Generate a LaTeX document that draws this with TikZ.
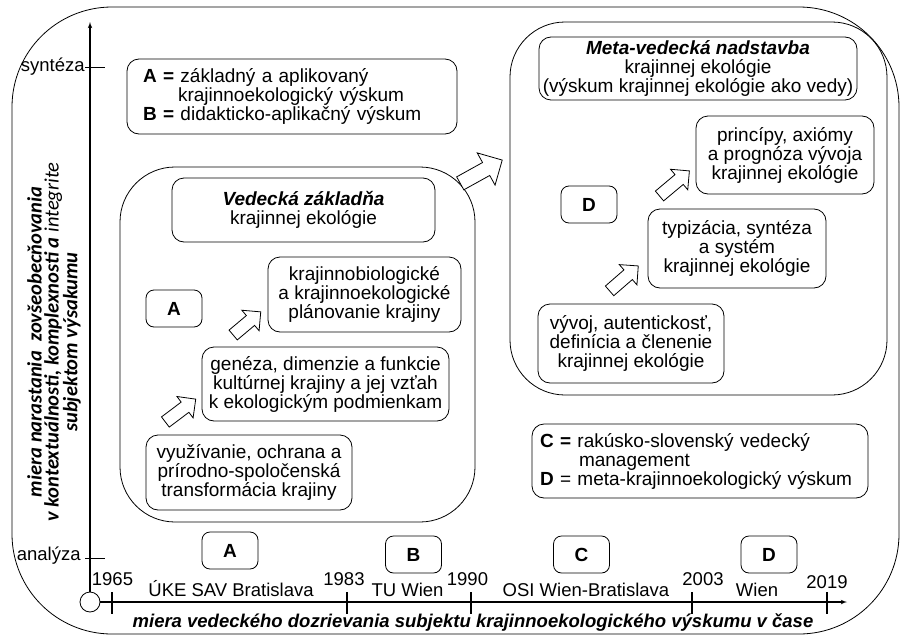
\documentclass[tikz,border=0pt]{standalone}
\usepackage{fontspec}
\setmainfont{Liberation Sans}
\newfontfamily\calfont{Carlito}
\usetikzlibrary{arrows,positioning,shapes.arrows}
\tikzstyle{tbox}=[draw, rounded corners=12pt, align=center, inner sep=0pt]
\tikzstyle{lbox}=[draw, rounded corners=12pt, align=left, inner sep=0pt]
\tikzstyle{lettr}=[draw, rounded corners=8pt, minimum width=56pt, minimum height=37pt, font=\bfseries\fontsize{19}{19}\selectfont]
\tikzstyle{cont}=[draw, rounded corners=55pt, inner sep=0pt]
\tikzstyle{harrow}=[draw, fill=white, single arrow, inner xsep=0pt, inner ysep=6pt, single arrow head extend=7pt]
\tikzstyle{tl}=[anchor=base, inner sep=0pt, font=\fontsize{18.5}{18.5}\selectfont]

\begin{document}
\begin{tikzpicture}[x=1pt,y=-1pt,>=latex',line width=0.8pt,font=\fontsize{19}{19}\selectfont]
    \useasboundingbox (0,0) rectangle (902,637);
    % outer frame
    \node[draw, rounded corners=100pt, minimum width=887pt, minimum height=627pt] (frame) at (455.5,320.5) {};
    % axes
    \node[draw, circle, fill=white, minimum size=20pt, inner sep=0pt] (orig) at (90,602) {};
    \coordinate (ytop) at (90,22);
    \coordinate (xend) at (847,602);
    \draw[->, line width=1.1pt] (orig) -- (ytop);
    \draw[->, line width=1.1pt] (orig) -- (xend);
    \foreach \x in {112,347,471,692,827}
        \draw[line width=1.1pt] (\x,592) -- (\x,614);
    \node[anchor=east, inner sep=0pt, font=\fontsize{18.5}{18.5}\selectfont] (syn) at (85,67) {syntéza};
    \node[anchor=east, inner sep=0pt, font=\fontsize{18.5}{18.5}\selectfont] (ana) at (81,556) {analýza};
    \draw (syn.east) -- (105,67);
    \draw (85,558) -- (105,558);
    \node[rotate=90, align=center, font=\calfont\bfseries\itshape\fontsize{20.5}{17}\selectfont] (ylab) at (54,342)
        {miera narastania\ \ zovšeobecňovania\\v kontextuálnosti, komplexnosti a {\mdseries integrite}\\subjektom výsakumu};
    \node[anchor=base, inner sep=0pt, font=\bfseries\itshape\fontsize{18.5}{18.5}\selectfont] (xlab) at (473,627)
        {miera vedeckého dozrievania subjektu krajinnoekologického výskumu v čase};
    % timeline
    \foreach \x/\y/\t in {112.5/585/1965, 344/585/1983, 467.5/585/1990, 703/585/2003, 827/588/2019}
        \node[tl] (y\t) at (\x,\y) {\t};
    \node[tl] (uke) at (231,596) {ÚKE SAV Bratislava};
    \node[tl] (tuw) at (407.5,596) {TU Wien};
    \node[tl] (osi) at (586,596) {OSI Wien-Bratislava};
    \node[tl] (wien) at (757,596) {Wien};
    \node[lettr] (tA) at (230,550.5) {A};
    \node[lettr] (tB) at (413.5,554.5) {B};
    \node[lettr] (tC) at (581.5,554.5) {C};
    \node[lettr] (tD) at (769,554.5) {D};
    % legends
    \node[lbox, minimum width=330pt, minimum height=75pt, text width=298pt] (legAB) at (292,96.5)
        {\textbf{A =} základný a aplikovaný\\\hspace*{35pt}krajinnoekologický výskum\\\textbf{B =} didakticko-aplikačný výskum};
    \node[lbox, minimum width=336pt, minimum height=74pt, text width=320pt] (legCD) at (700,461)
        {\textbf{C =} rakúsko-slovenský vedecký\\\hspace*{39pt}management\\\textbf{D} = meta-krajinnoekologický výskum};
    % Vedecka zakladna
    \node[cont, minimum width=355pt, minimum height=355pt] (ved) at (297.5,344.5) {};
    \node[tbox, minimum width=263pt, minimum height=64pt] (vedT) at (303.5,210) {\textbf{\textit{Vedecká základňa}}\\krajinnej ekológie};
    \node[lettr] (vA) at (174,308.5) {A};
    \node[tbox, minimum width=193pt, minimum height=75pt] (plan) at (364.5,294.5) {krajinnobiologické\\a krajinnoekologické\\plánovanie krajiny};
    \node[tbox, minimum width=247pt, minimum height=74pt] (gen) at (325.5,384) {genéza, dimenzie a funkcie\\kultúrnej krajiny a jej vzťah\\k ekologickým podmienkam};
    \node[tbox, minimum width=206pt, minimum height=75pt] (vyuz) at (249,472.5) {využívanie, ochrana a\\prírodno-spoločenská\\transformácia krajiny};
    \node[harrow, minimum height=38pt, rotate=37] (ar1) at (178,412.5) {};
    \node[harrow, minimum height=36pt, rotate=40] (ar2) at (244.5,325.5) {};
    % Meta-vedecka nadstavba
    \node[cont, minimum width=377pt, minimum height=373pt] (meta) at (698.5,208.5) {};
    \node[tbox, minimum width=318pt, minimum height=63pt] (metaT) at (698,68.5) {\textbf{\textit{Meta-vedecká nadstavba}}\\krajinnej ekológie\\(výskum krajinnej ekológie ako vedy)};
    \node[tbox, minimum width=178pt, minimum height=78pt] (princ) at (785,155) {princípy, axiómy\\a prognóza vývoja\\krajinnej ekológie};
    \node[lettr] (mD) at (589,204.5) {D};
    \node[tbox, minimum width=178pt, minimum height=79pt] (typ) at (737,248.5) {typizácia, syntéza\\a systém\\krajinnej ekológie};
    \node[tbox, minimum width=186pt, minimum height=79pt] (vyv) at (631,343.5) {vývoj, autentickosť,\\definícia a členenie\\krajinnej ekológie};
    \node[harrow, minimum height=38pt, rotate=41] (ar3) at (621.5,280.5) {};
    \node[harrow, minimum height=39pt, rotate=40] (ar4) at (672,185.5) {};
    % big arrow
    \node[harrow, minimum height=48pt, inner ysep=7pt, single arrow head extend=11pt, rotate=29] (ar0) at (478,173.5) {};
\end{tikzpicture}
\end{document}
